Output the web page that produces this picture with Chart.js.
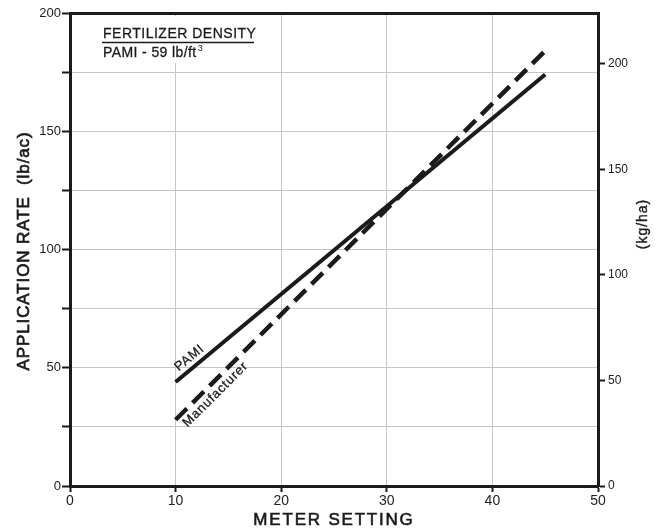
<!DOCTYPE html>
<html>
<head>
<meta charset="utf-8">
<title>Application rate vs meter setting</title>
<script src="https://cdn.jsdelivr.net/npm/chart.js@4.4.1/dist/chart.umd.min.js"></script>
<style>
  html, body { margin: 0; padding: 0; background: #fff; }
  #wrap { width: 658px; height: 532px; }
</style>
</head>
<body>
<div id="wrap"><canvas id="rateChart" width="658" height="532"></canvas></div>
<script>
// meter setting vs application rate (lb/ac) for both calibrations
const meterSettings = [10, 45];
const pamiRate = [44, 174];
const manufacturerRate = [28, 184];

const xTicks = [0, 10, 20, 30, 40, 50];
const rateGrid = [0, 25, 50, 75, 100, 125, 150, 175, 200];
const rateLabels = [0, 50, 100, 150, 200];
const kgTicks = [0, 50, 100, 150, 200];

const LB_TO_KG = 1.12085;
const ink = '#1b1b1b';
const gridGray = '#c6c6c6';
const sans = '"Liberation Sans", Arial, sans-serif';

function toPoints(ys) {
    return meterSettings.map((x, i) => ({ x: x, y: ys[i] }));
}

// letter-spaced text, optionally thickened with a thin outline
function spaced(ctx, text, x, y, spacing, weight) {
    ctx.letterSpacing = spacing + 'px';
    ctx.fillText(text, x, y);
    if (weight) {
        ctx.lineWidth = weight;
        ctx.strokeText(text, x, y);
    }
    ctx.letterSpacing = '0px';
}

// density note, captions on the two lines and the axis titles
const notes = {
    id: 'notes',
    beforeDatasetsDraw(chart) {
        const ctx = chart.ctx;
        ctx.save();
        ctx.fillStyle = '#fff';
        ctx.fillRect(92, 16, 172, 47);
        ctx.restore();
    },
    afterDatasetsDraw(chart) {
        const ctx = chart.ctx;
        const { x, y } = chart.scales;
        ctx.save();
        ctx.fillStyle = ink;
        ctx.strokeStyle = ink;

        // fertilizer density box
        ctx.font = '14px ' + sans;
        ctx.textAlign = 'left';
        ctx.textBaseline = 'alphabetic';
        spaced(ctx, 'FERTILIZER DENSITY', 103, 38, 0.5, 0.3);
        ctx.lineWidth = 1.6;
        ctx.beginPath();
        ctx.moveTo(102, 42.5);
        ctx.lineTo(254, 42.5);
        ctx.stroke();
        spaced(ctx, 'PAMI - 59 lb/ft', 103, 57, 0.4, 0.3);
        ctx.letterSpacing = '0.4px';
        const w = ctx.measureText('PAMI - 59 lb/ft').width;
        ctx.letterSpacing = '0px';
        ctx.font = '9px ' + sans;
        ctx.fillText('3', 103 + w + 1, 51);

        // captions running along each line
        const caption = (text, ys, along, offset) => {
            const x0 = x.getPixelForValue(meterSettings[0]);
            const y0 = y.getPixelForValue(ys[0]);
            const x1 = x.getPixelForValue(meterSettings[1]);
            const y1 = y.getPixelForValue(ys[1]);
            const a = Math.atan2(y1 - y0, x1 - x0);
            const px = x0 + along * Math.cos(a) - offset * Math.sin(a);
            const py = y0 + along * Math.sin(a) + offset * Math.cos(a);
            ctx.save();
            ctx.translate(px, py);
            ctx.rotate(a);
            ctx.font = '13px ' + sans;
            spaced(ctx, text, 0, 0, 0.8, 0.3);
            ctx.restore();
        };
        caption('PAMI', pamiRate, 9, -6);
        caption('Manufacturer', manufacturerRate, 3, 14);

        // axis titles
        ctx.textAlign = 'center';
        ctx.textBaseline = 'middle';
        ctx.font = '17px ' + sans;
        spaced(ctx, 'METER SETTING', 334, 520, 1.8, 0.6);

        ctx.save();
        ctx.translate(24, 251);
        ctx.rotate(-Math.PI / 2);
        spaced(ctx, 'APPLICATION RATE  (lb/ac)', 0, 0, 0.9, 0.7);
        ctx.restore();

        ctx.save();
        ctx.translate(643, 224);
        ctx.rotate(-Math.PI / 2);
        ctx.font = '14px ' + sans;
        spaced(ctx, '(kg/ha)', 0, 0, 1, 0.4);
        ctx.restore();

        ctx.restore();
    }
};

new Chart(document.getElementById('rateChart'), {
    type: 'line',
    data: {
        datasets: [
            {
                label: 'PAMI',
                data: toPoints(pamiRate),
                borderColor: ink,
                borderWidth: 4,
                pointRadius: 0,
                tension: 0
            },
            {
                label: 'Manufacturer',
                data: toPoints(manufacturerRate),
                borderColor: ink,
                borderWidth: 4.5,
                borderDash: [16, 8],
                pointRadius: 0,
                tension: 0
            }
        ]
    },
    options: {
        responsive: false,
        animation: false,
        layout: { padding: { top: 13, left: 0, right: 0, bottom: 0 } },
        plugins: {
            legend: { display: false },
            tooltip: { enabled: false }
        },
        scales: {
            x: {
                type: 'linear',
                position: 'bottom',
                min: 0,
                max: 50,
                afterBuildTicks: s => { s.ticks = xTicks.map(v => ({ value: v })); },
                afterFit: s => { s.height = 46; },
                grid: {
                    color: gridGray,
                    lineWidth: 1,
                    tickColor: ink,
                    tickWidth: 2,
                    tickLength: 6
                },
                border: { color: ink, width: 3 },
                ticks: {
                    color: '#222',
                    padding: 1,
                    maxRotation: 0,
                    font: { family: sans, size: 14 }
                }
            },
            xTop: {
                type: 'linear',
                position: 'top',
                min: 0,
                max: 50,
                afterFit: s => { s.height = 0; },
                grid: { display: false },
                border: { color: ink, width: 3 },
                ticks: { display: false }
            },
            y: {
                type: 'linear',
                position: 'left',
                min: 0,
                max: 200,
                afterBuildTicks: s => { s.ticks = rateGrid.map(v => ({ value: v })); },
                afterFit: s => { s.width = 70; },
                grid: {
                    color: gridGray,
                    lineWidth: 1,
                    tickColor: ink,
                    tickWidth: 2,
                    tickLength: 8
                },
                border: { color: ink, width: 3 },
                ticks: {
                    color: '#222',
                    padding: 1,
                    font: { family: sans, size: 13 },
                    callback: v => rateLabels.includes(v) ? String(v) : ''
                }
            },
            y2: {
                type: 'linear',
                position: 'right',
                min: 0,
                max: 200 * LB_TO_KG,
                afterBuildTicks: s => { s.ticks = kgTicks.map(v => ({ value: v })); },
                afterFit: s => { s.width = 60; },
                grid: {
                    drawOnChartArea: false,
                    tickColor: ink,
                    tickWidth: 2,
                    tickLength: 7
                },
                border: { color: ink, width: 3 },
                ticks: {
                    color: '#222',
                    padding: 3,
                    font: { family: sans, size: 12 }
                }
            }
        }
    },
    plugins: [notes]
});
</script>
</body>
</html>
